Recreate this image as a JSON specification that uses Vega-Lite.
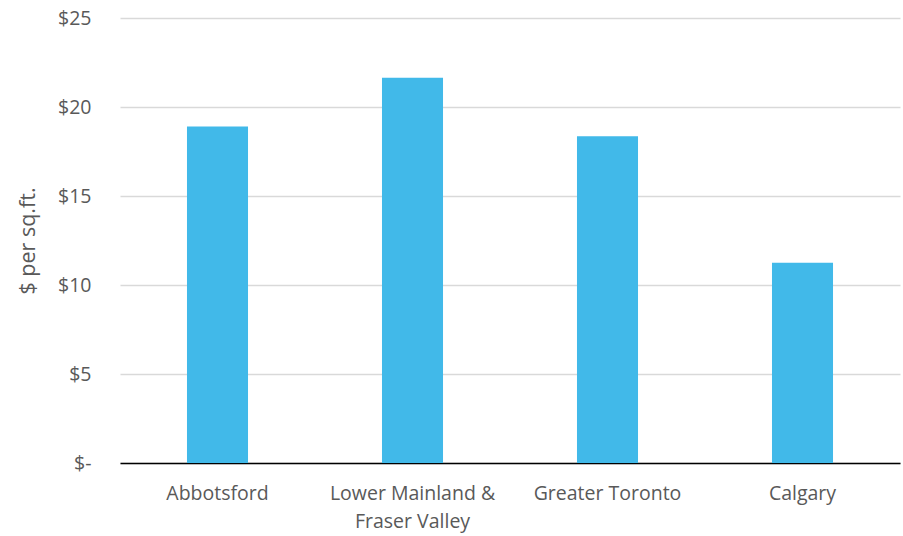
{
  "$schema": "https://vega.github.io/schema/vega-lite/v6.json",
  "width": 780,
  "height": 445,
  "autosize": "none",
  "padding": {"left": 120, "top": 18, "right": 3, "bottom": 73},
  "background": "white",
  "config": {"view": {"stroke": null}, "font": "Open Sans"},
  "data": {"values": [
    {"region": "Abbotsford", "value": 18.9},
    {"region": "Lower Mainland & Fraser Valley", "value": 21.65},
    {"region": "Greater Toronto", "value": 18.35},
    {"region": "Calgary", "value": 11.25}
  ]},
  "mark": {"type": "bar", "color": "#41b9e9"},
  "encoding": {
    "x": {
      "field": "region", "type": "nominal", "sort": null,
      "scale": {"paddingInner": 0.687, "paddingOuter": 0.3435},
      "axis": {
        "title": null, "labelAngle": 0, "ticks": false,
        "domainColor": "#000000", "domainWidth": 1.5,
        "labelFont": "Open Sans", "labelFontSize": 19.5, "labelColor": "#595959",
        "labelPadding": 21, "labelLineHeight": 28, "labelLimit": 300,
        "labelExpr": "datum.label == 'Lower Mainland & Fraser Valley' ? ['Lower Mainland &', 'Fraser Valley'] : datum.label"
      }
    },
    "y": {
      "field": "value", "type": "quantitative",
      "scale": {"domain": [0, 25], "nice": false},
      "axis": {
        "title": "$ per sq.ft.", "values": [0, 5, 10, 15, 20, 25],
        "domain": false, "ticks": false,
        "gridColor": "#d9d9d9", "gridWidth": 1.5,
        "labelFont": "Open Sans", "labelFontSize": 19.5, "labelColor": "#595959",
        "labelPadding": 29,
        "labelExpr": "datum.value == 0 ? '$-' : '$' + datum.value",
        "titleFont": "Open Sans", "titleFontSize": 21.5, "titleFontWeight": "normal",
        "titleColor": "#595959", "titlePadding": 18
      }
    }
  }
}
